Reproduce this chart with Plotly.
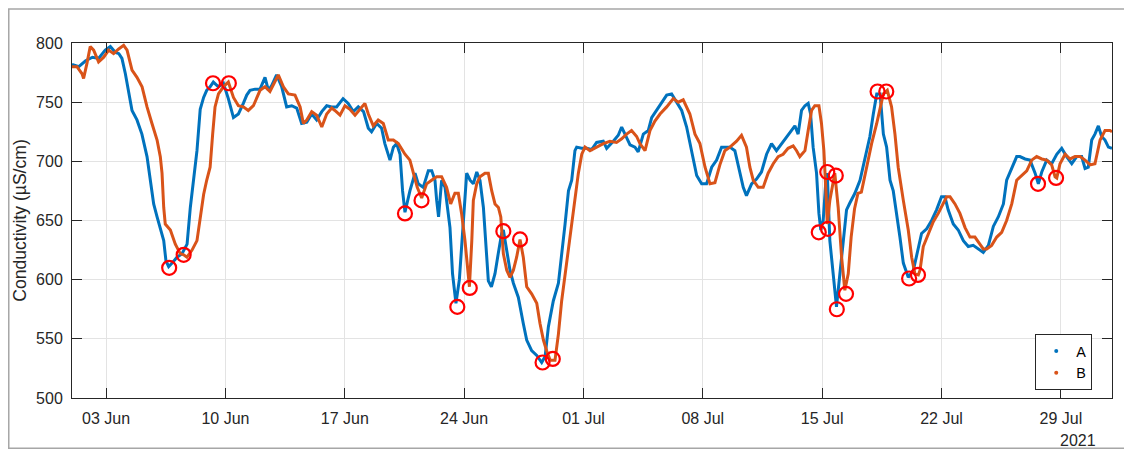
import pandas as pd
import plotly.graph_objects as go

# ---- data (days since 2021-06-01 00:00, conductivity µS/cm) ----
a_days = [0.0, 0.2, 0.4, 0.8, 1.2, 1.56, 1.95, 2.25, 2.55, 2.75, 2.93, 3.13, 3.32, 3.52, 3.81, 4.1, 4.4, 4.6,
          4.79, 4.99, 5.18, 5.38, 5.51, 5.67, 5.87, 6.16, 6.45, 6.75, 6.94, 7.14, 7.33, 7.52, 7.72, 7.9, 8.1,
          8.29, 8.59, 8.88, 9.17, 9.47, 9.76, 10.05, 10.25, 10.44, 10.74, 11.03, 11.32, 11.52, 11.71, 12.0,
          12.3, 12.59, 12.89, 13.18, 13.47, 13.77, 14.06, 14.35, 14.65, 14.94, 15.23, 15.52, 15.9, 16.2, 16.5,
          16.79, 17.1, 17.38, 17.57, 17.87, 18.16, 18.35, 18.65, 18.85, 19.04, 19.24, 19.39, 19.53, 19.82,
          20.12, 20.31, 20.6, 20.9, 21.1, 21.29, 21.39, 21.5, 21.68, 21.88, 21.97, 22.17, 22.32, 22.52, 22.72,
          22.9, 23.15, 23.35, 23.54, 23.74, 23.93, 24.13, 24.28, 24.42, 24.6, 24.81, 25.0, 25.2, 25.3, 25.5,
          25.69, 25.89, 26.18, 26.47, 26.67, 26.96, 27.26, 27.55, 27.75, 27.94, 28.23, 28.53, 28.72, 28.92,
          29.12, 29.31, 29.5, 29.6, 29.89, 30.19, 30.48, 30.77, 31.16, 31.36, 31.75, 32.04, 32.24, 32.43,
          32.73, 33.02, 33.21, 33.51, 33.8, 34.0, 34.29, 34.58, 34.88, 35.17, 35.46, 35.76, 36.05, 36.34,
          36.64, 36.93, 37.22, 37.52, 37.81, 38.1, 38.3, 38.59, 38.88, 39.17, 39.37, 39.56, 39.86, 40.15,
          40.44, 40.74, 41.03, 41.32, 41.62, 41.91, 42.2, 42.4, 42.59, 42.79, 42.99, 43.18, 43.32, 43.47,
          43.67, 43.81, 43.92, 44.06, 44.22, 44.3, 44.45, 44.65, 44.84, 45.04, 45.23, 45.43, 45.63, 45.92,
          46.22, 46.51, 46.8, 47.0, 47.2, 47.4, 47.59, 47.78, 47.98, 48.17, 48.37, 48.56, 48.76, 49.05,
          49.35, 49.64, 49.83, 50.13, 50.42, 50.71, 51.0, 51.2, 51.39, 51.69, 51.98, 52.28, 52.57, 52.86,
          53.16, 53.45, 53.75, 54.04, 54.33, 54.63, 54.82, 55.12, 55.41, 55.6, 55.9, 56.19, 56.49, 56.68,
          56.88, 57.17, 57.46, 57.76, 58.05, 58.34, 58.64, 58.93, 59.22, 59.42, 59.61, 59.81, 60.0, 60.2,
          60.39, 60.59, 60.79, 61.0]
a_vals = [782, 781, 780, 785, 788, 787, 794, 797, 792, 791, 787, 774, 757, 743, 735, 723, 704, 684,
          664, 653, 642, 633, 616, 611, 614, 619, 622, 630, 661, 684, 709, 744, 754, 760, 763,
          767, 763, 766, 753, 737, 740, 749, 756, 760, 761, 761, 771, 760, 764, 773,
          763, 746, 747, 745, 732, 733, 740, 735, 742, 747, 746, 746, 753, 749, 742,
          746, 742, 728, 725, 732, 728, 715, 701, 712, 715, 706, 675, 657, 675,
          690, 681, 678, 692, 692, 684, 667, 653, 684, 678, 667, 644, 605, 580, 600,
          640, 690, 684, 681, 691, 684, 661, 628, 599, 594, 605, 622, 639, 642, 625,
          608, 597, 585, 563, 549, 540, 536, 530, 535, 560, 582, 597, 619, 647,
          675, 684, 709, 712, 711, 711, 710, 716, 717, 711, 717, 722, 729, 723,
          714, 712, 708, 723, 726, 737, 743, 750, 756, 757, 750, 743, 729, 709,
          688, 681, 681, 695, 701, 712, 712, 712, 709, 692, 678, 671, 681, 685,
          691, 706, 715, 709, 715, 721, 726, 730, 723, 743, 747, 749, 740, 712,
          690, 656, 642, 650, 684, 690, 633, 605, 577, 605, 633, 659, 665, 673,
          684, 704, 721, 740, 757, 757, 723, 712, 684, 675, 656, 636, 614, 602,
          608, 628, 639, 643, 650, 659, 670, 670, 659, 647, 642, 633, 628, 629,
          626, 623, 629, 645, 653, 664, 684, 695, 704, 704, 702, 701, 690, 681,
          691, 701, 698, 706, 711, 704, 698, 704, 704, 694, 695, 718, 723, 730,
          721, 718, 712, 711]

b_days = [0.0, 0.29, 0.59, 0.68, 0.88, 1.07, 1.27, 1.56, 1.86, 2.15, 2.44, 2.74, 3.03, 3.23, 3.52, 3.81,
          4.11, 4.4, 4.69, 4.99, 5.18, 5.28, 5.38, 5.47, 5.77, 6.06, 6.35, 6.55, 6.74, 7.04, 7.33, 7.53,
          7.72, 7.9, 8.1, 8.25, 8.39, 8.59, 8.88, 9.17, 9.47, 9.76, 10.05, 10.34, 10.64, 11.03, 11.32, 11.61,
          11.91, 12.1, 12.4, 12.69, 13.08, 13.38, 13.57, 13.77, 14.06, 14.35, 14.65, 14.94, 15.23, 15.42,
          15.72, 16.01, 16.3, 16.6, 16.89, 17.18, 17.38, 17.67, 17.96, 18.26, 18.55, 18.85, 19.14, 19.53,
          19.82, 20.02, 20.25, 20.51, 20.8, 21.09, 21.39, 21.68, 21.97, 22.21, 22.46, 22.66, 22.85, 23.05,
          23.31, 23.45, 23.54, 23.74, 23.93, 24.22, 24.42, 24.62, 24.81, 25.01, 25.15, 25.3, 25.5, 25.69,
          25.89, 26.08, 26.28, 26.47, 26.67, 26.96, 27.26, 27.45, 27.65, 27.84, 28.04, 28.33, 28.53, 28.72,
          28.92, 29.12, 29.31, 29.5, 29.7, 29.9, 30.09, 30.38, 30.77, 31.16, 31.55, 31.94, 32.24, 32.53,
          32.82, 33.12, 33.31, 33.61, 33.9, 34.19, 34.49, 34.88, 35.27, 35.56, 35.85, 36.05, 36.24, 36.54,
          36.83, 37.13, 37.42, 37.71, 38.0, 38.29, 38.59, 38.98, 39.27, 39.56, 39.76, 39.96, 40.25, 40.54,
          40.83, 41.13, 41.42, 41.71, 42.0, 42.3, 42.5, 42.69, 42.99, 43.18, 43.38, 43.57, 43.81, 43.96,
          44.1, 44.22, 44.3, 44.45, 44.74, 44.94, 45.14, 45.33, 45.53, 45.7, 45.9, 46.1, 46.3, 46.61, 46.9,
          47.2, 47.39, 47.59, 47.82, 48.07, 48.27, 48.46, 48.76, 49.05, 49.25, 49.44, 49.64, 49.74, 49.93,
          50.22, 50.52, 50.81, 51.1, 51.3, 51.5, 51.79, 52.08, 52.38, 52.67, 52.96, 53.25, 53.45, 53.65,
          53.94, 54.24, 54.53, 54.82, 55.12, 55.41, 55.7, 56.0, 56.29, 56.58, 56.88, 57.17, 57.46, 57.66,
          57.76, 57.95, 58.25, 58.54, 58.83, 59.13, 59.42, 59.72, 60.0, 60.3, 60.59, 60.88, 61.0]
b_vals = [780, 780, 774, 770, 783, 797, 794, 784, 788, 794, 791, 795, 798, 794, 777, 771,
          763, 746, 732, 718, 704, 690, 661, 647, 642, 630, 622, 621, 619, 625, 633, 653,
          672, 684, 695, 723, 746, 757, 763, 767, 754, 747, 746, 743, 747, 760, 763, 759,
          768, 773, 763, 757, 756, 746, 732, 735, 742, 739, 729, 740, 745, 743,
          739, 747, 744, 739, 744, 749, 740, 730, 735, 732, 718, 718, 715, 706,
          701, 690, 678, 669, 681, 684, 687, 687, 678, 664, 673, 673, 656, 633,
          594, 633, 667, 681, 687, 690, 690, 675, 664, 661, 653, 622, 608, 602,
          608, 619, 634, 619, 594, 588, 580, 563, 549, 540, 532, 532, 554, 582,
          605, 628, 650, 670, 690, 706, 712, 709, 712, 715, 717, 716, 719, 723,
          726, 721, 715, 709, 726, 734, 740, 746, 753, 750, 752, 746, 740, 723,
          715, 695, 681, 682, 697, 709, 712, 717, 722, 712, 695, 684, 678, 678,
          690, 698, 704, 706, 711, 713, 709, 704, 709, 726, 743, 747, 747, 732,
          709, 675, 647, 667, 690, 661, 619, 591, 605, 636, 660, 673, 674, 695, 715,
          732, 743, 757, 760, 746, 723, 695, 667, 642, 619, 605, 604, 608, 628,
          639, 649, 656, 664, 670, 670, 664, 656, 644, 636, 636, 630, 626, 626,
          629, 636, 640, 650, 664, 684, 688, 692, 701, 704, 702, 701, 697, 687,
          686, 698, 706, 702, 704, 704, 701, 697, 698, 718, 726, 726, 725]

# flagged points (red circles)
circ_days = [5.7, 6.55, 8.27, 9.2, 19.53, 20.5, 22.6, 23.33, 25.3, 26.28, 27.6, 28.2,
             43.8, 44.3, 44.34, 44.8, 44.86, 45.4, 47.25, 47.76, 49.1, 49.62, 56.66, 57.72]
circ_vals = [610, 621, 766, 766, 656, 667, 577, 593, 641, 634, 530, 533,
             640, 691, 643, 688, 575, 588, 759, 759, 601, 604, 681, 686]

tick_days = [2, 9, 16, 23, 30, 37, 44, 51, 58]
y_ticks = [500, 550, 600, 650, 700, 750, 800]

base = pd.Timestamp("2021-06-01")
to_dt = lambda d: [base + pd.Timedelta(days=x) for x in d]

BLUE = "#0072BD"
ORANGE = "#D95319"
AXC = "#262626"
FONT = "Liberation Sans, Arial, sans-serif"

fig = go.Figure()
fig.add_trace(go.Scatter(x=to_dt(a_days), y=a_vals, mode="lines", line=dict(color=BLUE, width=3),
                         showlegend=False, hoverinfo="skip"))
fig.add_trace(go.Scatter(x=to_dt(b_days), y=b_vals, mode="lines", line=dict(color=ORANGE, width=3),
                         showlegend=False, hoverinfo="skip"))
fig.add_trace(go.Scatter(x=to_dt(circ_days), y=circ_vals, mode="markers",
                         marker=dict(symbol="circle-open", size=14, color="#FF0000",
                                     line=dict(width=2.2, color="#FF0000")),
                         showlegend=False))
fig.add_trace(go.Scatter(x=[None], y=[None], mode="markers", marker=dict(color=BLUE, size=4), name="A"))
fig.add_trace(go.Scatter(x=[None], y=[None], mode="markers", marker=dict(color=ORANGE, size=4), name="B"))

fig.update_layout(
    width=1124, height=441,
    margin=dict(l=64, r=20, t=35, b=51),
    paper_bgcolor="white", plot_bgcolor="white",
    font=dict(family=FONT, size=16, color=AXC),
    legend=dict(x=0.981, xanchor="right", y=0.022, yanchor="bottom",
                bordercolor=AXC, borderwidth=1, bgcolor="white",
                font=dict(size=14.4, color="#000000"), itemwidth=30, tracegroupgap=0),
    xaxis=dict(type="date", range=[base, base + pd.Timedelta(days=61)],
               tickvals=to_dt(tick_days), tickformat="%d %b",
               ticks="inside", ticklen=10, tickcolor=AXC, mirror="ticks",
               showline=True, linecolor=AXC, linewidth=1,
               showgrid=True, gridcolor="#e3e3e3", gridwidth=1, zeroline=False,
               tickfont=dict(size=16, color=AXC), ticklabelstandoff=6),
    yaxis=dict(range=[500, 800], tickvals=y_ticks,
               ticks="inside", ticklen=10, tickcolor=AXC, mirror="ticks",
               showline=True, linecolor=AXC, linewidth=1,
               showgrid=True, gridcolor="#e3e3e3", gridwidth=1, zeroline=False,
               tickfont=dict(size=16, color=AXC), ticklabelstandoff=5,
               title=dict(text="Conductivity (µS/cm)", font=dict(size=17.6, color=AXC), standoff=4)),
    annotations=[dict(text="2021", xref="paper", yref="paper", x=0.967, y=-0.119,
                      xanchor="center", yanchor="middle", showarrow=False,
                      font=dict(size=16, color=AXC))],
    shapes=[dict(type="rect", xref="paper", yref="paper", x0=-0.0608, x1=1.03, y0=-0.1417, y1=1.0955,
                 line=dict(color="#a6a6a6", width=1.5), fillcolor="rgba(0,0,0,0)", layer="below")],
)

fig.write_html("out.html")
